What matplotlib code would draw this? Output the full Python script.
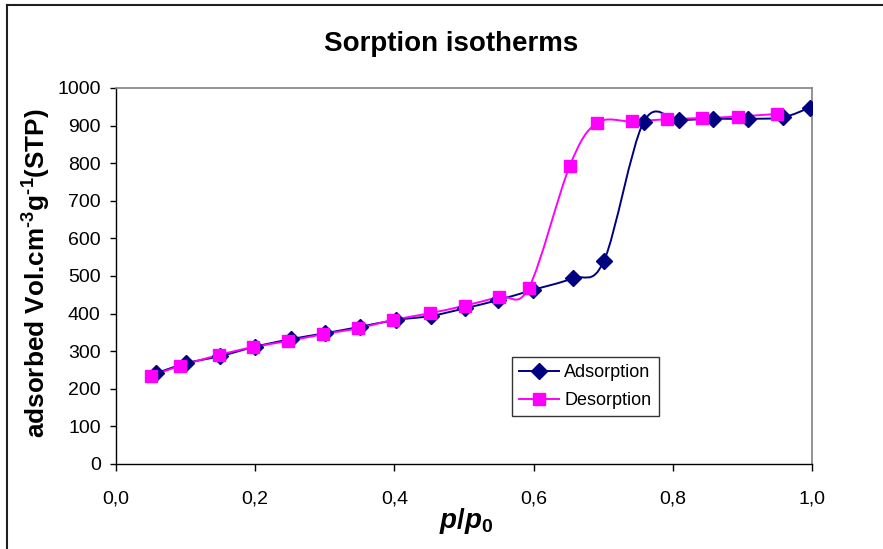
import numpy as np
import matplotlib
matplotlib.use("Agg")
import matplotlib.pyplot as plt
from matplotlib.path import Path
from matplotlib.patches import PathPatch
from matplotlib.lines import Line2D

plt.rcParams['font.family'] = ['Liberation Sans', 'DejaVu Sans']
plt.rcParams['mathtext.fontset'] = 'custom'
plt.rcParams['mathtext.rm'] = 'Liberation Sans:bold'
plt.rcParams['mathtext.it'] = 'Liberation Sans:italic:bold'
plt.rcParams['mathtext.bf'] = 'Liberation Sans:bold'

# ---- data ----
ads_x = [0.057, 0.101, 0.150, 0.200, 0.251, 0.301, 0.351, 0.402, 0.453, 0.501,
         0.549, 0.599, 0.656, 0.701, 0.758, 0.809, 0.858, 0.908, 0.958, 0.997]
ads_y = [241, 268, 287, 312, 332, 348, 365, 383, 394, 414,
         436, 463, 494, 540, 909, 914, 918, 918, 922, 948]
des_x = [0.050, 0.092, 0.148, 0.197, 0.247, 0.297, 0.348, 0.398, 0.451, 0.501,
         0.551, 0.593, 0.652, 0.691, 0.742, 0.792, 0.842, 0.893, 0.949]
des_y = [234, 261, 290, 311, 327, 345, 361, 383, 401, 421,
         445, 468, 793, 907, 911, 917, 920, 924, 931]
series_names = ["Adsorption", "Desorption"]
x_ticks = [0.0, 0.2, 0.4, 0.6, 0.8, 1.0]
x_ticklabels = ["0,0", "0,2", "0,4", "0,6", "0,8", "1,0"]
y_ticks = list(range(0, 1001, 100))

NAVY = "#000080"
MAGENTA = "#FF00FF"


def smooth_path(xs, ys):
    """Excel-like smoothed line: cubic Bezier segments (Catmull-Rom control points)."""
    P = np.column_stack([xs, ys]).astype(float)
    n = len(P)
    verts = [P[0]]
    codes = [Path.MOVETO]
    for i in range(n - 1):
        p0 = P[i - 1] if i > 0 else P[i]
        p1 = P[i]
        p2 = P[i + 1]
        p3 = P[i + 2] if i + 2 < n else P[i + 1]
        c1 = p1 + (p2 - p0) / 6.0
        c2 = p2 - (p3 - p1) / 6.0
        verts += [c1, c2, p2]
        codes += [Path.CURVE4] * 3
    return Path(np.array(verts), codes)


fig = plt.figure(figsize=(8.83, 5.49), dpi=100)
ax = fig.add_axes([116 / 883, 1 - 464 / 549, 696 / 883, 376 / 549])

ax.add_patch(PathPatch(smooth_path(ads_x, ads_y), facecolor='none',
                       edgecolor=NAVY, lw=1.4, zorder=3))
ax.add_patch(PathPatch(smooth_path(des_x, des_y), facecolor='none',
                       edgecolor=MAGENTA, lw=1.4, zorder=3))
ax.plot(ads_x, ads_y, linestyle='none', marker='D', ms=8.5, color=NAVY, zorder=4)
ax.plot(des_x, des_y, linestyle='none', marker='s', ms=9, color=MAGENTA, zorder=5)

ax.set_xlim(0, 1.0)
ax.set_ylim(0, 1000)
ax.set_xticks(x_ticks)
ax.set_xticklabels(x_ticklabels)
ax.set_yticks(y_ticks)
ax.tick_params(axis='x', direction='out', length=5, width=1, pad=14, labelsize=14)
ax.tick_params(axis='y', direction='out', length=4, width=1, pad=7, labelsize=14)

for s in ['top', 'right']:
    ax.spines[s].set_color('#808080')
    ax.spines[s].set_linewidth(1.2)
for s in ['left', 'bottom']:
    ax.spines[s].set_color('black')
    ax.spines[s].set_linewidth(1.0)

handles = [Line2D([], [], color=NAVY, marker='D', ms=8.5, lw=1.4),
           Line2D([], [], color=MAGENTA, marker='s', ms=9, lw=1.4)]
leg = ax.legend(handles, series_names, loc='upper left',
                bbox_to_anchor=((512 - 116) / 696, (464 - 357) / 376),
                fontsize=13, frameon=True, fancybox=False, borderaxespad=0,
                handlelength=2.2, handletextpad=0.3, labelspacing=0.6,
                borderpad=0.4)
leg.get_frame().set_edgecolor('black')
leg.get_frame().set_linewidth(1.0)

fig.text(451 / 883, 1 - 44 / 549, "Sorption isotherms", ha='center', va='center',
         fontsize=20, fontweight='bold')
fig.text(37 / 883, 1 - 273 / 549, r"adsorbed Vol.cm$^{\text{-3}}$g$^{\text{-1}}$(STP)",
         rotation=90, ha='center', va='center', fontsize=18.8, fontweight='bold')
fig.text(466 / 883, 1 - 521 / 549, r"$p/p_{\mathbf{0}}$", ha='center',
         va='center', fontsize=20)

# outer chart-area border (top and left visible)
fig.add_artist(Line2D([7 / 883, 1.0], [1 - 5 / 549, 1 - 5 / 549],
                      transform=fig.transFigure, color='#202020', lw=1.5))
fig.add_artist(Line2D([7 / 883, 7 / 883], [0, 1 - 5 / 549],
                      transform=fig.transFigure, color='#202020', lw=1.5))

fig.savefig("out.png", dpi=100)
